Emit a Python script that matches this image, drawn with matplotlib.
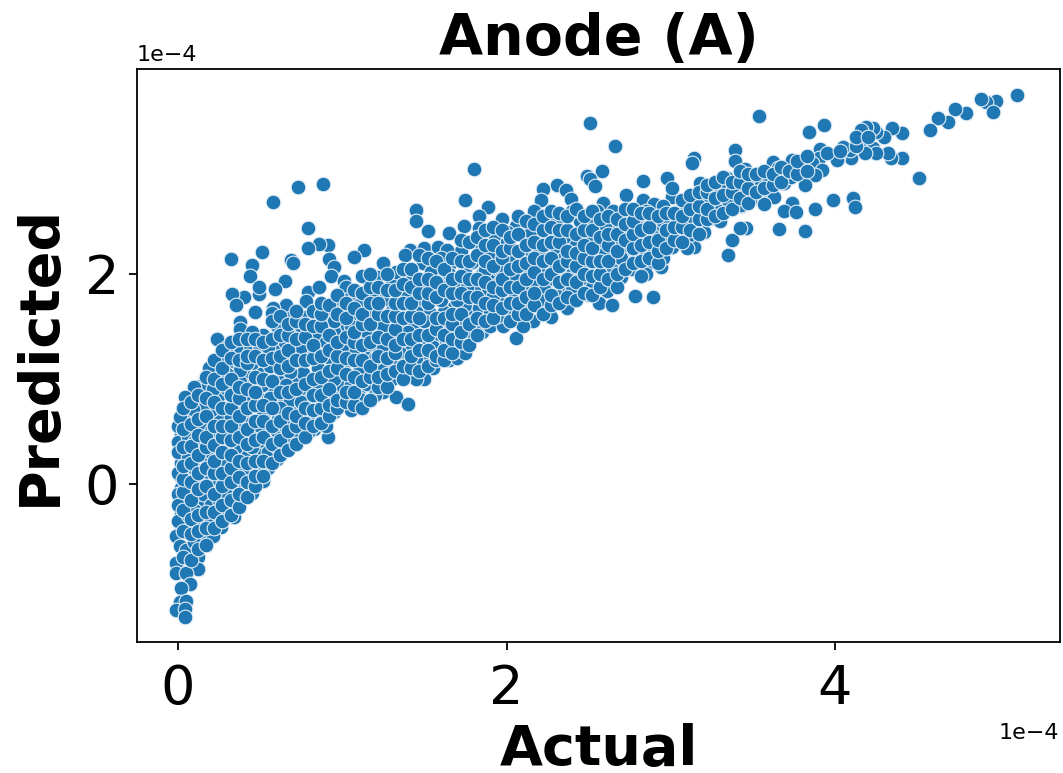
import numpy as np
import matplotlib
matplotlib.use("Agg")
import matplotlib.pyplot as plt
from matplotlib.transforms import ScaledTranslation

UNIT = 1e-4

# (actual, predicted), in units of 1e-4
high_points = [
    (5.11, 3.70), (4.98, 3.65), (4.92, 3.64), (4.89, 3.67), (4.96, 3.54), (4.80, 3.53), (4.73, 3.57), (4.69, 3.45),
    (4.63, 3.49), (4.58, 3.37), (4.51, 2.91), (4.41, 3.34), (4.41, 3.10), (4.34, 3.10), (4.32, 3.15), (4.35, 3.39),
    (4.30, 3.30), (4.25, 3.35), (4.23, 3.39), (4.19, 3.40), (4.16, 3.37), (4.17, 3.26), (4.23, 3.20), (4.25, 3.15),
    (4.18, 3.15), (4.10, 3.10), (4.09, 3.18), (4.05, 3.21), (4.02, 3.11), (4.01, 3.09), (3.91, 3.19), (3.93, 3.42),
    (3.84, 3.35), (3.54, 3.50), (3.90, 3.10), (3.86, 3.06), (3.79, 3.03), (3.92, 2.99), (3.88, 2.94), (3.82, 2.85),
    (3.74, 3.09), (3.62, 3.07), (3.65, 3.01), (3.68, 2.96), (3.69, 2.87), (3.73, 2.92), (3.59, 2.92), (3.51, 2.90),
    (3.45, 3.00), (3.47, 2.91), (3.59, 2.80), (3.63, 2.73), (3.57, 2.67), (3.48, 2.70), (3.43, 2.66), (3.43, 2.78),
    (3.74, 2.68), (3.69, 2.60), (3.76, 2.59), (3.88, 2.62), (3.99, 2.70), (4.11, 2.72), (4.12, 2.64), (3.66, 2.43),
    (3.82, 2.41), (3.46, 2.44), (3.42, 2.44),
]
upper_points = [
    (3.39, 3.18), (3.39, 3.08), (3.14, 3.10), (3.13, 3.06), (2.98, 2.91), (2.83, 2.89), (2.66, 3.22), (2.51, 3.44),
    (2.58, 2.98), (2.49, 2.93), (2.51, 2.90), (2.54, 2.84), (2.31, 2.85), (2.36, 2.80), (2.39, 2.71), (2.22, 2.81),
    (2.21, 2.70), (2.73, 2.75), (2.83, 2.70), (2.90, 2.67), (3.01, 2.73), (3.01, 2.82), (3.18, 2.87), (3.15, 2.73),
    (3.26, 2.82), (3.34, 2.91), (3.43, 2.65), (3.27, 2.64), (3.31, 2.70), (3.22, 2.69), (3.12, 2.53), (3.25, 2.53),
    (3.19, 2.45), (3.37, 2.32), (3.35, 2.18), (3.14, 2.26), (3.11, 2.37), (3.01, 2.50), (3.07, 2.63), (2.97, 2.36),
    (2.93, 2.27), (3.01, 2.26), (2.94, 2.07), (2.86, 2.10), (2.79, 2.18), (2.89, 1.78), (2.78, 1.79), (2.70, 1.97),
    (2.76, 2.05), (2.64, 2.07), (2.71, 2.13), (2.71, 2.59), (2.80, 2.54), (2.89, 2.53), (2.92, 2.44), (2.83, 2.34),
    (2.72, 2.24), (2.65, 2.45), (2.59, 2.58), (2.59, 2.68), (2.58, 2.29), (2.48, 2.09), (2.61, 1.84), (2.56, 1.72),
    (2.64, 1.70), (2.52, 1.89), (2.37, 2.05), (2.26, 1.72), (2.37, 1.68), (2.27, 1.59), (2.16, 1.55), (2.10, 1.66),
    (2.33, 1.83), (2.23, 1.86), (2.29, 1.95), (2.16, 1.93), (2.05, 1.78), (1.92, 1.79), (1.98, 1.50), (2.06, 1.39),
    (1.81, 1.51), (1.83, 1.68), (1.76, 1.88), (1.79, 2.11), (1.87, 2.04), (1.97, 2.03), (2.03, 2.15), (2.14, 2.23),
    (2.31, 2.23), (2.42, 2.30), (2.22, 2.34), (2.45, 2.50), (2.06, 2.46), (2.17, 2.60), (1.97, 2.52), (1.89, 2.64),
    (1.83, 2.55), (1.75, 2.70), (1.74, 2.46), (1.83, 2.44), (1.93, 2.36), (1.83, 2.25), (2.00, 2.30), (1.80, 3.00),
    (2.20, 2.10), (2.35, 2.15), (2.40, 2.00), (2.45, 2.20), (2.50, 2.35), (2.55, 2.05), (2.60, 2.20), (2.65, 2.30),
    (2.70, 2.40), (2.75, 2.30), (2.80, 2.45), (2.85, 2.20), (2.90, 2.35), (2.95, 2.50), (3.05, 2.40), (3.10, 2.50),
    (3.20, 2.60), (3.05, 2.60), (3.20, 2.40), (3.30, 2.60), (3.35, 2.70), (3.40, 2.85), (3.30, 2.80), (3.45, 2.90),
    (3.50, 2.75), (3.55, 2.85), (3.60, 2.75), (3.30, 2.50), (2.10, 2.00), (2.10, 1.85), (2.20, 1.75), (2.30, 1.80),
    (2.40, 1.85), (2.45, 1.95), (2.15, 2.40), (2.30, 2.50), (2.35, 2.35), (2.50, 2.50), (2.60, 2.45), (2.55, 2.60),
    (2.65, 2.60), (2.75, 2.55), (2.85, 2.60), (2.95, 2.65), (2.00, 2.40), (2.05, 1.95), (1.95, 1.90), (1.90, 2.20),
    (2.25, 2.05), (2.50, 1.80), (2.70, 2.15), (2.85, 2.00), (2.95, 2.15), (3.10, 2.25), (2.40, 2.60), (2.20, 2.20),
    (1.90, 1.65), (2.00, 1.65), (2.10, 1.50), (1.95, 1.60),
]
mid_points = [
    (0.73, 2.83), (0.88, 2.86), (0.58, 2.69), (0.79, 2.44), (1.45, 2.61), (1.45, 2.50), (1.52, 2.41), (1.65, 2.39),
    (0.91, 2.28), (0.86, 2.29), (0.79, 2.25), (1.13, 2.23), (1.07, 2.16), (0.51, 2.21), (0.32, 2.14), (0.45, 2.09),
    (0.44, 1.98), (0.69, 2.13), (0.70, 2.10), (0.92, 2.14), (0.95, 2.07), (0.93, 1.98), (0.65, 1.93), (0.59, 1.86),
    (0.49, 1.81), (0.49, 1.88), (0.40, 1.78), (0.33, 1.81), (0.35, 1.70), (0.47, 1.64), (0.38, 1.54), (0.38, 1.48),
    (0.66, 1.70), (0.58, 1.68), (0.57, 1.63), (0.68, 1.58), (0.52, 1.42), (0.79, 1.83), (0.78, 1.74), (0.86, 1.88),
    (1.01, 1.93), (1.02, 1.88), (1.04, 1.76), (0.95, 1.70), (0.78, 1.59), (1.08, 1.60), (1.16, 1.66), (1.20, 1.53),
    (1.03, 1.50), (1.21, 1.97), (1.25, 2.10), (1.30, 1.93), (1.20, 1.82), (1.26, 1.76), (1.33, 2.02), (1.41, 2.23),
    (1.38, 2.18), (1.50, 2.25), (1.58, 2.26), (1.49, 2.10), (1.54, 2.02), (1.65, 2.09), (1.72, 2.22), (1.64, 2.23),
    (1.50, 1.89), (1.41, 1.78), (1.38, 1.83), (1.62, 1.97), (1.68, 1.69), (1.75, 1.88), (1.62, 1.64), (1.53, 1.64),
    (1.35, 1.52), (1.43, 1.51), (1.61, 1.51), (1.52, 1.50), (1.70, 1.31), (1.61, 1.36), (1.50, 1.35), (1.39, 1.30),
    (1.30, 1.15), (1.21, 1.31), (1.14, 1.24), (1.07, 1.27), (1.01, 1.15), (0.93, 1.19), (1.11, 1.10), (1.23, 1.10),
    (1.29, 0.99), (1.42, 1.04), (1.55, 1.10), (1.65, 1.18), (1.52, 1.20), (1.25, 0.88), (1.33, 0.83), (1.40, 0.76),
    (1.11, 0.81), (0.99, 0.94), (0.91, 0.80), (0.85, 0.91), (0.76, 1.06), (0.68, 1.07), (0.56, 1.12), (0.71, 1.29),
    (0.60, 1.27), (0.49, 1.28), (0.41, 1.29), (0.28, 1.22), (0.24, 1.38), (0.19, 1.10), (0.10, 0.92), (0.04, 0.83),
    (0.21, 0.90), (0.09, 0.71), (0.38, 0.97), (0.38, 1.09), (0.51, 0.94), (0.66, 0.94), (0.40, 0.84), (0.50, 0.81),
    (0.56, 0.82), (0.68, 0.80), (0.75, 0.78), (0.83, 0.76), (0.41, 0.70), (0.62, 0.72), (0.52, 0.66), (0.79, 0.66),
    (0.32, 0.64), (0.95, 0.69), (0.01, 0.64),
    (1.00, 1.30), (1.10, 1.40), (1.15, 1.20), (1.20, 1.20), (1.25, 1.30), (1.30, 1.40), (1.35, 1.25), (1.40, 1.45),
    (1.45, 1.20), (1.45, 1.65), (1.50, 1.75), (1.55, 1.40), (1.60, 1.25), (1.65, 1.45), (1.70, 1.55), (1.75, 1.40),
    (1.80, 1.65), (1.85, 1.85), (1.85, 1.45), (1.90, 1.95), (1.95, 2.05), (1.75, 1.70), (1.70, 1.90), (1.65, 2.00),
    (1.55, 1.85), (1.40, 1.95), (1.30, 1.65), (1.25, 1.50), (1.15, 1.45), (1.10, 1.70), (1.05, 1.50), (0.95, 1.45),
    (0.90, 1.60), (0.85, 1.40), (0.80, 1.25), (0.70, 1.45), (0.60, 1.50), (0.55, 1.30), (0.45, 1.45), (0.35, 1.30),
    (0.30, 1.05), (0.30, 1.30), (0.45, 1.15), (0.65, 1.20), (0.75, 1.30), (0.85, 1.10), (0.95, 1.00), (1.05, 0.95),
    (1.15, 0.95), (1.20, 0.85), (1.30, 1.00), (1.40, 1.15), (1.50, 1.00), (1.55, 1.30), (1.45, 1.00), (0.90, 1.35),
    (0.95, 1.55), (0.75, 1.50), (0.65, 1.35), (1.00, 1.65), (1.35, 1.65), (1.50, 1.55), (1.60, 1.75), (1.70, 1.75),
    (1.80, 1.85), (1.80, 1.55), (1.90, 1.50), (1.70, 1.20), (1.75, 1.25), (1.60, 2.15), (1.75, 2.05), (1.85, 2.00),
    (1.95, 1.75),
]
low_points = [
    (0.02, 0.62), (0.02, 0.47), (0.10, 0.53), (0.25, 0.62), (0.52, 0.65), (0.61, 0.62), (0.78, 0.65), (0.89, 0.62),
    (0.91, 0.45), (0.83, 0.52), (0.64, 0.41), (0.51, 0.37), (0.40, 0.45), (0.24, 0.40), (0.18, 0.40), (0.30, 0.33),
    (0.09, 0.32), (0.02, 0.20), (0.18, 0.21), (0.23, 0.15), (0.40, 0.26), (0.50, 0.28), (0.60, 0.24), (0.55, 0.15),
    (0.44, 0.11), (0.32, 0.08), (0.01, 0.08), (0.13, 0.00), (0.02, -0.04), (0.19, -0.07), (0.30, -0.05), (0.52, 0.03),
    (0.45, -0.09), (0.04, -0.18), (0.13, -0.17), (0.30, -0.23), (0.02, -0.29), (0.15, -0.36), (0.02, -0.40),
    (0.26, -0.41), (0.15, -0.50), (0.21, -0.50), (-0.01, -0.50), (0.01, -0.59), (0.05, -0.63), (0.12, -0.70),
    (-0.01, -0.75), (0.12, -0.81), (-0.01, -0.85), (0.05, -0.85), (0.07, -0.95), (0.02, -0.99), (0.01, -1.12),
    (0.05, -1.11), (-0.01, -1.20), (0.04, -1.19), (0.04, -1.27), (0.35, -0.15), (0.34, -0.31),
    (0.00, 0.55), (0.00, 0.40), (0.00, 0.30), (0.00, 0.10), (0.00, -0.10), (0.00, -0.20), (0.00, -0.35), (0.06, 0.45),
    (0.06, 0.25), (0.06, 0.10), (0.06, -0.05), (0.06, -0.30), (0.06, -0.45), (0.10, 0.15), (0.10, -0.10), (0.10, -0.25),
    (0.10, -0.40), (0.10, -0.55), (0.15, 0.55), (0.15, 0.10), (0.15, -0.10), (0.20, 0.70), (0.20, 0.50), (0.20, 0.30),
    (0.20, 0.05), (0.20, -0.20), (0.20, -0.35), (0.25, 0.85), (0.25, 0.25), (0.25, -0.15), (0.25, -0.30), (0.30, 0.90),
    (0.30, 0.50), (0.30, 0.20), (0.30, -0.10), (0.35, 0.75), (0.35, 0.55), (0.35, 0.35), (0.35, 0.00), (0.40, 1.05),
    (0.40, 0.60), (0.40, 0.15), (0.40, -0.05), (0.45, 0.95), (0.45, 0.50), (0.45, 0.35), (0.50, 1.05), (0.50, 0.55),
    (0.50, 0.15), (0.55, 0.90), (0.55, 0.45), (0.55, 0.30), (0.60, 1.00), (0.60, 0.50), (0.60, 0.35), (0.65, 0.80),
    (0.65, 0.55), (0.70, 1.00), (0.70, 0.70), (0.70, 0.45), (0.75, 0.90), (0.75, 0.60), (0.80, 0.80), (0.80, 0.50),
    (0.85, 0.65), (0.90, 0.95), (0.90, 0.55), (0.95, 0.85), (1.00, 0.75), (1.05, 0.80), (1.10, 0.90), (0.15, 0.75),
    (0.10, 0.40), (0.10, 0.65), (0.05, 0.70), (0.25, 1.00), (0.20, 0.95), (0.30, 1.15), (0.15, 0.95), (1.12, 0.72),
    (1.05, 0.70),
]
# dense part of the cloud, listed by column: actual -> predicted values
dense_columns = {
    0.03: [-0.7, -0.45, -0.25, -0.08, 0.05, 0.17, 0.35, 0.52, 0.72],
    0.08: [-0.72, -0.48, -0.33, -0.15, 0.02, 0.2, 0.36, 0.57, 0.78],
    0.12: [-0.62, -0.45, -0.3, -0.05, 0.1, 0.28, 0.47, 0.62, 0.85],
    0.17: [-0.58, -0.42, -0.27, -0.02, 0.15, 0.35, 0.45, 0.65, 0.82, 1.02],
    0.22: [-0.42, -0.27, -0.1, 0.1, 0.22, 0.37, 0.55, 0.78, 1.0, 1.18],
    0.27: [-0.35, -0.2, -0.02, 0.1, 0.3, 0.45, 0.55, 0.72, 0.95, 1.1, 1.28],
    0.32: [-0.3, -0.15, 0.02, 0.15, 0.28, 0.42, 0.55, 0.72, 0.85, 1.0, 1.2, 1.35],
    0.37: [-0.22, -0.1, 0.07, 0.22, 0.45, 0.65, 0.82, 0.92, 1.18, 1.38],
    0.42: [-0.12, 0.02, 0.2, 0.38, 0.52, 0.72, 0.9, 1.15, 1.22, 1.38],
    0.47: [-0.02, 0.08, 0.22, 0.42, 0.6, 0.75, 0.88, 1.02, 1.22, 1.38],
    0.52: [0.08, 0.22, 0.45, 0.6, 0.75, 1.0, 1.18, 1.35],
    0.57: [0.2, 0.38, 0.55, 0.72, 0.98, 1.2, 1.38, 1.55],
    0.62: [0.28, 0.42, 0.6, 0.88, 1.1, 1.22, 1.42, 1.6],
    0.67: [0.32, 0.5, 0.68, 0.88, 1.12, 1.28, 1.42, 1.52],
    0.72: [0.38, 0.55, 0.65, 0.9, 1.18, 1.38, 1.55, 1.65],
    0.77: [0.45, 0.58, 0.72, 0.95, 1.18, 1.4, 1.52],
    0.82: [0.55, 0.7, 0.85, 1.0, 1.2, 1.32, 1.5, 1.65],
    0.87: [0.58, 0.72, 0.85, 1.02, 1.22, 1.5, 1.62, 1.72],
    0.92: [0.65, 0.75, 0.9, 1.08, 1.28, 1.42, 1.7],
    0.97: [0.72, 0.8, 1.1, 1.22, 1.35, 1.62, 1.8],
    1.02: [0.78, 0.88, 1.05, 1.2, 1.4, 1.58, 1.72],
    1.07: [0.75, 0.88, 1.02, 1.18, 1.35, 1.45, 1.68, 1.85],
    1.12: [0.72, 0.98, 1.18, 1.32, 1.52, 1.62, 1.82, 1.98],
    1.17: [0.8, 1.02, 1.12, 1.35, 1.52, 1.72, 1.88, 2.0],
    1.22: [0.92, 1.02, 1.22, 1.4, 1.62, 1.72, 1.88],
    1.27: [0.92, 1.05, 1.2, 1.38, 1.6, 1.85, 2.0],
    1.32: [1.08, 1.25, 1.32, 1.48, 1.6, 1.72, 1.85],
    1.37: [1.0, 1.12, 1.38, 1.58, 1.72, 1.9, 2.05],
    1.42: [1.1, 1.22, 1.38, 1.6, 1.72, 1.88, 2.05],
    1.47: [1.08, 1.28, 1.42, 1.58, 1.82, 1.95, 2.18],
    1.52: [1.12, 1.28, 1.42, 1.72, 1.82, 1.95, 2.15],
    1.57: [1.18, 1.22, 1.48, 1.58, 1.78, 1.92, 2.12],
    1.62: [1.18, 1.28, 1.42, 1.58, 1.85, 2.05],
    1.67: [1.25, 1.38, 1.52, 1.62, 1.82, 1.95, 2.15],
    1.72: [1.35, 1.45, 1.62, 1.82, 1.98, 2.12, 2.32],
    1.77: [1.32, 1.52, 1.78, 1.95, 2.12, 2.3],
    1.82: [1.42, 1.58, 1.78, 1.95, 2.18, 2.35],
    1.87: [1.55, 1.72, 1.92, 2.12, 2.28, 2.42],
    1.92: [1.58, 1.7, 1.88, 2.08, 2.28, 2.45],
    1.97: [1.68, 1.85, 1.95, 2.15, 2.22, 2.42],
    2.02: [1.55, 1.72, 1.88, 2.05, 2.25, 2.35],
    2.07: [1.62, 1.72, 1.88, 2.08, 2.22, 2.38, 2.55],
    2.12: [1.62, 1.78, 1.95, 2.1, 2.28, 2.5],
    2.17: [1.7, 1.82, 2.02, 2.15, 2.3, 2.48],
    2.22: [1.62, 1.95, 2.12, 2.28, 2.42, 2.55],
    2.27: [1.7, 1.8, 2.0, 2.15, 2.3, 2.45, 2.6],
    2.32: [1.72, 1.92, 2.08, 2.3, 2.42, 2.58],
    2.37: [1.78, 1.95, 2.12, 2.22, 2.42, 2.55],
    2.42: [1.75, 1.92, 2.08, 2.2, 2.38, 2.62],
    2.47: [1.82, 2.0, 2.15, 2.28, 2.42, 2.55],
    2.52: [1.8, 1.98, 2.12, 2.25, 2.42, 2.6],
    2.57: [1.88, 2.0, 2.12, 2.35, 2.52],
    2.62: [1.95, 2.12, 2.28, 2.38, 2.55],
    2.67: [1.88, 2.0, 2.22, 2.38, 2.52],
    2.72: [2.05, 2.32, 2.48, 2.62],
    2.77: [2.1, 2.25, 2.38, 2.5, 2.62],
    2.82: [1.98, 2.12, 2.28, 2.42, 2.58],
    2.87: [2.15, 2.3, 2.45, 2.58],
    2.92: [2.1, 2.22, 2.32, 2.55],
    2.97: [2.25, 2.42, 2.58],
    3.02: [2.32, 2.45, 2.58],
    3.07: [2.3, 2.45, 2.55, 2.7],
    3.12: [2.42, 2.62, 2.75],
    3.17: [2.38, 2.52, 2.65, 2.78],
    3.22: [2.52, 2.62, 2.78, 2.85],
    3.27: [2.55, 2.72, 2.88],
    3.32: [2.58, 2.75, 2.92],
    3.37: [2.62, 2.78, 2.88],
    3.42: [2.72, 2.88, 2.98],
    3.47: [2.68, 2.82, 2.95],
    3.52: [2.78, 2.95],
    3.57: [2.82, 2.98],
    3.62: [2.85, 2.95],
    3.67: [2.88, 3.02],
    3.72: [2.98],
    3.77: [2.95, 3.08],
    3.83: [2.98, 3.12],
    3.95: [3.15],
    4.03: [3.17],
    4.13: [3.22, 3.3],
    4.2: [3.3],
}

x_ticks = [0, 2, 4]
y_ticks = [0, 2]
title = "Anode (A)"
x_label = "Actual"
y_label = "Predicted"

dense_points = [(a, p) for a, values in dense_columns.items() for p in values]
points = np.array(low_points + mid_points + upper_points + high_points + dense_points) * UNIT

fig = plt.figure(figsize=(10.63, 7.73), dpi=100)
ax = fig.add_axes([137 / 1063, 1 - 642 / 773, 923 / 1063, 573 / 773])

ax.scatter(points[:, 0], points[:, 1], s=112, color="#1f77b4", edgecolors="#e4eef6", linewidths=0.8)

ax.set_xlim(-0.25 * UNIT, 5.37 * UNIT)
ax.set_ylim(-1.505 * UNIT, 3.952 * UNIT)
ax.set_xticks([t * UNIT for t in x_ticks])
ax.set_yticks([t * UNIT for t in y_ticks])
ax.ticklabel_format(style="sci", axis="both", scilimits=(0, 0))
ax.tick_params(axis="x", labelsize=39, length=6, width=1.3, pad=9)
ax.tick_params(axis="y", labelsize=39, length=6, width=1.3, pad=7)
for spine in ax.spines.values():
    spine.set_linewidth(1.3)

# the offset labels sit a bit further from the axes than the defaults
x_offset = ax.xaxis.get_offset_text()
x_offset.set_fontsize(16)
x_offset.set_transform(x_offset.get_transform() + ScaledTranslation(-1 / 100, -4 / 100, fig.dpi_scale_trans))
y_offset = ax.yaxis.get_offset_text()
y_offset.set_fontsize(16)
y_offset.set_transform(y_offset.get_transform() + ScaledTranslation(0, 4 / 100, fig.dpi_scale_trans))

ax.set_title(title, fontsize=41, fontweight="bold", pad=10)
ax.set_xlabel(x_label, fontsize=40, fontweight="bold", labelpad=6)
ax.set_ylabel(y_label, fontsize=40, fontweight="bold", labelpad=13)

fig.savefig("out.png", dpi=100)
